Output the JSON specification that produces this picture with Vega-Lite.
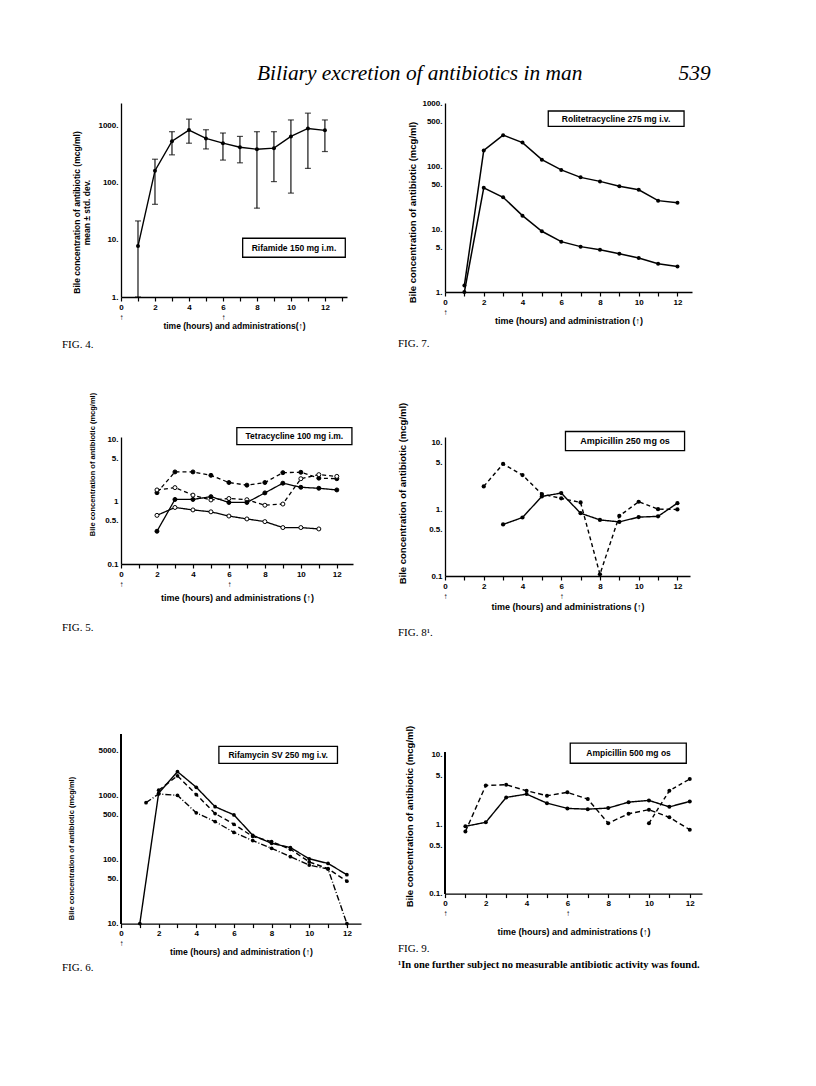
{
  "$schema": "https://vega.github.io/schema/vega-lite/v6.json",
  "background": "white",
  "autosize": {"type": "none"},
  "padding": {"left": 121, "top": 103, "right": 695, "bottom": 983},
  "title": {"text": "Biliary excretion of antibiotics in man\u00a0\u00a0\u00a0\u00a0\u00a0\u00a0\u00a0\u00a0\u00a0\u00a0\u00a0\u00a0\u00a0\u00a0\u00a0\u00a0\u00a0\u00a0539", "anchor": "start", "frame": "group", "dx": 136, "offset": 15, "font": "Liberation Serif", "fontSize": 21.4, "fontStyle": "italic", "fontWeight": "normal", "color": "black"},
  "config": {
    "view": {"stroke": null},
    "axis": {"domainColor": "black", "tickColor": "black", "labelColor": "black", "titleColor": "black", "labelFont": "Liberation Sans", "titleFont": "Liberation Sans", "labelFontWeight": "bold", "titleFontWeight": "bold", "labelFontSize": 8, "titleFontSize": 9, "grid": false, "domainWidth": 1.3, "tickWidth": 1.2, "labelOverlap": false},
    "axisX": {"labelOverlap": false, "labelFlush": false},
    "title": {"font": "Liberation Serif", "color": "black", "fontWeight": "normal"}
  },
  "resolve": {"scale": {"strokeDash": "independent", "fill": "independent"}},
  "columns": 2,
  "align": "none",
  "bounds": "flush",
  "spacing": {"row": 140, "column": 84},
  "concat": [
    {
      "width": 226, "height": 194,
      "title": {"text": "FIG. 4.", "orient": "bottom", "anchor": "start", "frame": "group", "dx": -59, "offset": 9, "fontSize": 11},
      "data": {"values": [
        {"t": 1, "v": 7.8, "lo": 1, "hi": 21.5},
        {"t": 2, "v": 163, "lo": 42, "hi": 259},
        {"t": 3, "v": 535, "lo": 309, "hi": 786},
        {"t": 4, "v": 840, "lo": 494, "hi": 1304},
        {"t": 5, "v": 600, "lo": 392, "hi": 850},
        {"t": 6, "v": 495, "lo": 250, "hi": 745},
        {"t": 7, "v": 420, "lo": 224, "hi": 650},
        {"t": 8, "v": 387, "lo": 36, "hi": 786},
        {"t": 9, "v": 405, "lo": 105, "hi": 786},
        {"t": 10, "v": 650, "lo": 66, "hi": 1262},
        {"t": 11, "v": 895, "lo": 179, "hi": 1660},
        {"t": 12, "v": 830, "lo": 353, "hi": 1262}
      ]},
      "layer": [
        {
          "mark": {"type": "line", "color": "black", "strokeWidth": 1.4},
          "encoding": {
            "x": {"field": "t", "type": "quantitative", "scale": {"domain": [0, 13.3], "nice": false, "zero": false},
              "axis": {"values": [0,1,2,3,4,5,6,7,8,9,10,11,12,13], "tickCount": 40, "format": "d", "labelExpr": "datum.value % 2 ? '' : ((datum.value == 0 || datum.value == 6) ? [datum.label, '↑'] : datum.label)", "title": "time (hours) and administrations(↑)", "titleFontSize": 8.5, "tickSize": 4, "labelPadding": 2, "labelFlush": false, "labelOverlap": false, "labelBound": false, "labelLineHeight": 10, "titlePadding": 0}},
            "y": {"field": "v", "type": "quantitative", "scale": {"type": "log", "domain": [1, 2500], "nice": false},
              "axis": {"values": [1, 10, 100, 1000], "tickCount": 40, "format": "~g", "labelExpr": "datum.label + '.'", "ticks": false, "labelPadding": 3, "labelOverlap": false, "labelFlush": false, "title": ["Bile concentration of antibiotic (mcg/ml)", "mean ± std. dev."], "titleFontSize": 8.5, "titleY": 109, "titlePadding": 6}}
          }
        },
        {
          "mark": {"type": "rule", "color": "black", "strokeWidth": 1.1},
          "encoding": {
            "x": {"field": "t", "type": "quantitative"},
            "y": {"field": "lo", "type": "quantitative"},
            "y2": {"field": "hi"}
          }
        },
        {
          "mark": {"type": "tick", "color": "black", "orient": "horizontal", "size": 6, "thickness": 1.2},
          "encoding": {
            "x": {"field": "t", "type": "quantitative"},
            "y": {"field": "hi", "type": "quantitative"}
          }
        },
        {
          "mark": {"type": "tick", "color": "black", "orient": "horizontal", "size": 6, "thickness": 1.2},
          "encoding": {
            "x": {"field": "t", "type": "quantitative"},
            "y": {"field": "lo", "type": "quantitative"}
          }
        },
        {
          "mark": {"type": "point", "shape": "circle", "filled": true, "color": "black", "size": 16, "opacity": 1},
          "encoding": {
            "x": {"field": "t", "type": "quantitative"},
            "y": {"field": "v", "type": "quantitative"}
          }
        },
        {
          "data": {"values": [{"x1": 7.16, "x2": 13.2, "y1": 4.97, "y2": 10.7, "tx": 10.18, "ty": 7.3, "label": "Rifamide 150 mg i.m."}]},
          "layer": [
            {"mark": {"type": "rect", "fill": "white", "stroke": "black", "strokeWidth": 1.3},
             "encoding": {"x": {"field": "x1", "type": "quantitative"}, "x2": {"field": "x2"}, "y": {"field": "y1", "type": "quantitative"}, "y2": {"field": "y2"}}},
            {"mark": {"type": "text", "font": "Liberation Sans", "fontWeight": "bold", "fontSize": 8.5, "color": "black"},
             "encoding": {"x": {"field": "tx", "type": "quantitative"}, "y": {"field": "ty", "type": "quantitative"}, "text": {"field": "label"}}}
          ]
        }
      ]
    },
    {
      "width": 247, "height": 189,
      "title": {"text": "FIG. 7.", "orient": "bottom", "anchor": "start", "frame": "group", "dx": -47, "offset": 13, "fontSize": 11},
      "data": {"values": [
        {"t": 1, "v": 1.27, "s": "U"}, {"t": 2, "v": 177, "s": "U"}, {"t": 3, "v": 309, "s": "U"}, {"t": 4, "v": 235, "s": "U"},
        {"t": 5, "v": 126, "s": "U"}, {"t": 6, "v": 86.7, "s": "U"}, {"t": 7, "v": 66, "s": "U"}, {"t": 8, "v": 57, "s": "U"},
        {"t": 9, "v": 47.6, "s": "U"}, {"t": 10, "v": 42, "s": "U"}, {"t": 11, "v": 28.2, "s": "U"}, {"t": 12, "v": 26.2, "s": "U"},
        {"t": 1, "v": 1, "s": "L"}, {"t": 2, "v": 45, "s": "L"}, {"t": 3, "v": 31.9, "s": "L"}, {"t": 4, "v": 16.3, "s": "L"},
        {"t": 5, "v": 9.2, "s": "L"}, {"t": 6, "v": 6.3, "s": "L"}, {"t": 7, "v": 5.25, "s": "L"}, {"t": 8, "v": 4.7, "s": "L"},
        {"t": 9, "v": 4.06, "s": "L"}, {"t": 10, "v": 3.46, "s": "L"}, {"t": 11, "v": 2.8, "s": "L"}, {"t": 12, "v": 2.55, "s": "L"}
      ]},
      "layer": [
        {
          "mark": {"type": "line", "color": "black", "strokeWidth": 1.5},
          "encoding": {
            "x": {"field": "t", "type": "quantitative", "scale": {"domain": [0, 12.75], "nice": false, "zero": false},
              "axis": {"values": [0,1,2,3,4,5,6,7,8,9,10,11,12], "tickCount": 40, "format": "d", "labelExpr": "datum.value % 2 ? '' : (datum.value == 0 ? [datum.label, '↑'] : datum.label)", "title": "time (hours) and administration (↑)", "tickSize": 4, "labelPadding": 2, "labelFlush": false, "labelOverlap": false, "labelBound": false, "labelLineHeight": 10, "titlePadding": 0}},
            "y": {"field": "v", "type": "quantitative", "scale": {"type": "log", "domain": [1, 1000], "nice": false},
              "axis": {"values": [1, 5, 10, 50, 100, 500, 1000], "tickCount": 40, "format": "~g", "labelExpr": "datum.label + '.'", "ticks": false, "labelPadding": 3, "labelOverlap": false, "labelFlush": false, "title": "Bile concentration of antibiotic (mcg/ml)", "titleFontSize": 9.5, "titleY": 109, "titlePadding": 4}},
            "detail": {"field": "s"}
          }
        },
        {
          "mark": {"type": "point", "shape": "circle", "filled": true, "color": "black", "size": 16, "opacity": 1},
          "encoding": {
            "x": {"field": "t", "type": "quantitative"},
            "y": {"field": "v", "type": "quantitative"}
          }
        },
        {
          "data": {"values": [{"x1": 5.33, "x2": 12.34, "y1": 427, "y2": 746, "tx": 8.83, "ty": 564, "label": "Rolitetracycline 275 mg i.v."}]},
          "layer": [
            {"mark": {"type": "rect", "fill": "white", "stroke": "black", "strokeWidth": 1.3},
             "encoding": {"x": {"field": "x1", "type": "quantitative"}, "x2": {"field": "x2"}, "y": {"field": "y1", "type": "quantitative"}, "y2": {"field": "y2"}}},
            {"mark": {"type": "text", "font": "Liberation Sans", "fontWeight": "bold", "fontSize": 8.5, "color": "black"},
             "encoding": {"x": {"field": "tx", "type": "quantitative"}, "y": {"field": "ty", "type": "quantitative"}, "text": {"field": "label"}}}
          ]
        }
      ]
    },
    {
      "width": 232, "height": 127,
      "title": {"text": "FIG. 5.", "orient": "bottom", "anchor": "start", "frame": "group", "dx": -59, "offset": 20, "fontSize": 11},
      "data": {"values": [
        {"t": 2, "v": 1.40, "s": "A"}, {"t": 3, "v": 3.02, "s": "A"}, {"t": 4, "v": 3.02, "s": "A"}, {"t": 5, "v": 2.66, "s": "A"},
        {"t": 6, "v": 2.04, "s": "A"}, {"t": 7, "v": 1.85, "s": "A"}, {"t": 8, "v": 2.04, "s": "A"}, {"t": 9, "v": 2.94, "s": "A"},
        {"t": 10, "v": 2.98, "s": "A"}, {"t": 11, "v": 2.40, "s": "A"}, {"t": 12, "v": 2.35, "s": "A"},
        {"t": 2, "v": 1.55, "s": "B"}, {"t": 3, "v": 1.69, "s": "B"}, {"t": 4, "v": 1.28, "s": "B"}, {"t": 5, "v": 1.07, "s": "B"},
        {"t": 6, "v": 1.13, "s": "B"}, {"t": 7, "v": 1.08, "s": "B"}, {"t": 8, "v": 0.88, "s": "B"}, {"t": 9, "v": 0.92, "s": "B"},
        {"t": 10, "v": 2.35, "s": "B"}, {"t": 11, "v": 2.73, "s": "B"}, {"t": 12, "v": 2.56, "s": "B"},
        {"t": 2, "v": 0.336, "s": "C"}, {"t": 3, "v": 1.09, "s": "C"}, {"t": 4, "v": 1.09, "s": "C"}, {"t": 5, "v": 1.21, "s": "C"},
        {"t": 6, "v": 0.975, "s": "C"}, {"t": 7, "v": 0.975, "s": "C"}, {"t": 8, "v": 1.39, "s": "C"}, {"t": 9, "v": 1.99, "s": "C"},
        {"t": 10, "v": 1.71, "s": "C"}, {"t": 11, "v": 1.65, "s": "C"}, {"t": 12, "v": 1.55, "s": "C"},
        {"t": 2, "v": 0.605, "s": "D"}, {"t": 3, "v": 0.81, "s": "D"}, {"t": 4, "v": 0.74, "s": "D"}, {"t": 5, "v": 0.69, "s": "D"},
        {"t": 6, "v": 0.59, "s": "D"}, {"t": 7, "v": 0.53, "s": "D"}, {"t": 8, "v": 0.48, "s": "D"}, {"t": 9, "v": 0.385, "s": "D"},
        {"t": 10, "v": 0.385, "s": "D"}, {"t": 11, "v": 0.366, "s": "D"}
      ]},
      "layer": [
        {
          "mark": {"type": "line", "color": "black", "strokeWidth": 1.3},
          "encoding": {
            "x": {"field": "t", "type": "quantitative", "scale": {"domain": [0, 12.9], "nice": false, "zero": false},
              "axis": {"values": [0,1,2,3,4,5,6,7,8,9,10,11,12], "tickCount": 40, "format": "d", "labelExpr": "datum.value % 2 ? '' : ((datum.value == 0 || datum.value == 6) ? [datum.label, '↑'] : datum.label)", "title": "time (hours) and administrations (↑)", "tickSize": 4, "labelPadding": 2, "labelFlush": false, "labelOverlap": false, "labelBound": false, "labelLineHeight": 10, "titlePadding": 5}},
            "y": {"field": "v", "type": "quantitative", "scale": {"type": "log", "domain": [0.1, 11], "nice": false},
              "axis": {"values": [0.1, 0.5, 1, 5, 10], "tickCount": 40, "format": "~g", "labelExpr": "datum.value == 0.1 || datum.value == 1 ? datum.label : datum.label + '.'", "ticks": false, "labelPadding": 3, "labelOverlap": false, "labelFlush": false, "title": "Bile concentration of antibiotic (mcg/ml)", "titleFontSize": 7.5, "titleY": 27, "titlePadding": 8}},
            "detail": {"field": "s"},
            "strokeDash": {"field": "s", "type": "nominal", "scale": {"domain": ["A", "B", "C", "D"], "range": [[4, 3], [4, 3], [1, 0], [1, 0]]}, "legend": null}
          }
        },
        {
          "mark": {"type": "point", "shape": "circle", "filled": true, "stroke": "black", "strokeWidth": 1, "size": 16, "opacity": 1},
          "encoding": {
            "x": {"field": "t", "type": "quantitative"},
            "y": {"field": "v", "type": "quantitative"},
            "fill": {"field": "s", "type": "nominal", "scale": {"domain": ["A", "B", "C", "D"], "range": ["black", "white", "black", "white"]}, "legend": null}
          }
        },
        {
          "data": {"values": [{"x1": 6.44, "x2": 12.84, "y1": 8.3, "y2": 15.6, "tx": 9.64, "ty": 11.4, "label": "Tetracycline  100 mg i.m."}]},
          "layer": [
            {"mark": {"type": "rect", "fill": "white", "stroke": "black", "strokeWidth": 1.3},
             "encoding": {"x": {"field": "x1", "type": "quantitative"}, "x2": {"field": "x2"}, "y": {"field": "y1", "type": "quantitative"}, "y2": {"field": "y2"}}},
            {"mark": {"type": "text", "font": "Liberation Sans", "fontWeight": "bold", "fontSize": 8.5, "color": "black"},
             "encoding": {"x": {"field": "tx", "type": "quantitative"}, "y": {"field": "ty", "type": "quantitative"}, "text": {"field": "label"}}}
          ]
        }
      ]
    },
    {
      "width": 245, "height": 139,
      "title": {"text": "FIG. 8¹.", "orient": "bottom", "anchor": "start", "frame": "group", "dx": -47, "offset": 16, "fontSize": 11},
      "data": {"values": [
        {"t": 2, "v": 2.19, "s": "D"}, {"t": 3, "v": 4.75, "s": "D"}, {"t": 4, "v": 3.24, "s": "D"}, {"t": 5, "v": 1.68, "s": "D"},
        {"t": 6, "v": 1.45, "s": "D"}, {"t": 7, "v": 1.26, "s": "D"}, {"t": 8, "v": 0.106, "s": "D"}, {"t": 9, "v": 0.79, "s": "D"},
        {"t": 10, "v": 1.29, "s": "D"}, {"t": 11, "v": 1.0, "s": "D"}, {"t": 12, "v": 0.99, "s": "D"},
        {"t": 3, "v": 0.59, "s": "S"}, {"t": 4, "v": 0.75, "s": "S"}, {"t": 5, "v": 1.55, "s": "S"}, {"t": 6, "v": 1.74, "s": "S"},
        {"t": 7, "v": 0.87, "s": "S"}, {"t": 8, "v": 0.69, "s": "S"}, {"t": 9, "v": 0.645, "s": "S"}, {"t": 10, "v": 0.76, "s": "S"},
        {"t": 11, "v": 0.78, "s": "S"}, {"t": 12, "v": 1.23, "s": "S"}
      ]},
      "layer": [
        {
          "mark": {"type": "line", "color": "black", "strokeWidth": 1.4},
          "encoding": {
            "x": {"field": "t", "type": "quantitative", "scale": {"domain": [0, 12.65], "nice": false, "zero": false},
              "axis": {"values": [0,1,2,3,4,5,6,7,8,9,10,11,12], "tickCount": 40, "format": "d", "labelExpr": "datum.value % 2 ? '' : ((datum.value == 0 || datum.value == 6) ? [datum.label, '↑'] : datum.label)", "title": "time (hours) and administrations (↑)", "tickSize": 4, "labelPadding": 2, "labelFlush": false, "labelOverlap": false, "labelBound": false, "labelLineHeight": 10, "titlePadding": 2}},
            "y": {"field": "v", "type": "quantitative", "scale": {"type": "log", "domain": [0.1, 12], "nice": false},
              "axis": {"values": [0.1, 0.5, 1, 5, 10], "tickCount": 40, "format": "~g", "labelExpr": "datum.value == 0.1 ? datum.label : datum.label + '.'", "ticks": false, "labelPadding": 3, "labelOverlap": false, "labelFlush": false, "title": "Bile concentration of antibiotic (mcg/ml)", "titleFontSize": 9.5, "titleY": 56, "titlePadding": 21}},
            "detail": {"field": "s"},
            "strokeDash": {"field": "s", "type": "nominal", "scale": {"domain": ["D", "S"], "range": [[4, 3], [1, 0]]}, "legend": null}
          }
        },
        {
          "mark": {"type": "point", "shape": "circle", "filled": true, "color": "black", "size": 18, "opacity": 1},
          "encoding": {
            "x": {"field": "t", "type": "quantitative"},
            "y": {"field": "v", "type": "quantitative"}
          }
        },
        {
          "data": {"values": [{"x1": 6.22, "x2": 12.37, "y1": 7.5, "y2": 14.5, "tx": 9.3, "ty": 10.4, "label": "Ampicillin 250 mg os"}]},
          "layer": [
            {"mark": {"type": "rect", "fill": "white", "stroke": "black", "strokeWidth": 1.3},
             "encoding": {"x": {"field": "x1", "type": "quantitative"}, "x2": {"field": "x2"}, "y": {"field": "y1", "type": "quantitative"}, "y2": {"field": "y2"}}},
            {"mark": {"type": "text", "font": "Liberation Sans", "fontWeight": "bold", "fontSize": 9, "color": "black"},
             "encoding": {"x": {"field": "tx", "type": "quantitative"}, "y": {"field": "ty", "type": "quantitative"}, "text": {"field": "label"}}}
          ]
        }
      ]
    },
    {
      "width": 240, "height": 207.6,
      "title": {"text": "FIG. 6.", "orient": "bottom", "anchor": "start", "frame": "group", "dx": -59, "offset": 6, "fontSize": 11},
      "data": {"values": [
        {"t": 1, "v": 10, "s": "S"}, {"t": 2, "v": 1090, "s": "S"}, {"t": 3, "v": 2370, "s": "S"}, {"t": 4, "v": 1350, "s": "S"},
        {"t": 5, "v": 670, "s": "S"}, {"t": 6, "v": 500, "s": "S"}, {"t": 7, "v": 240, "s": "S"}, {"t": 8, "v": 180, "s": "S"},
        {"t": 9, "v": 154, "s": "S"}, {"t": 10, "v": 103, "s": "S"}, {"t": 11, "v": 87, "s": "S"}, {"t": 12, "v": 58, "s": "S"},
        {"t": 2, "v": 1213, "s": "D"}, {"t": 3, "v": 2040, "s": "D"}, {"t": 4, "v": 1040, "s": "D"}, {"t": 5, "v": 525, "s": "D"},
        {"t": 6, "v": 356, "s": "D"}, {"t": 7, "v": 230, "s": "D"}, {"t": 8, "v": 191, "s": "D"}, {"t": 9, "v": 145, "s": "D"},
        {"t": 10, "v": 92, "s": "D"}, {"t": 11, "v": 72, "s": "D"}, {"t": 12, "v": 46, "s": "D"},
        {"t": 1.33, "v": 776, "s": "P"}, {"t": 2, "v": 1060, "s": "P"}, {"t": 3, "v": 1010, "s": "P"}, {"t": 4, "v": 538, "s": "P"},
        {"t": 5, "v": 393, "s": "P"}, {"t": 6, "v": 266, "s": "P"}, {"t": 7, "v": 198, "s": "P"}, {"t": 8, "v": 150, "s": "P"},
        {"t": 9, "v": 111, "s": "P"}, {"t": 10, "v": 82, "s": "P"}, {"t": 11, "v": 71, "s": "P"}, {"t": 12, "v": 10, "s": "P"}
      ]},
      "layer": [
        {
          "mark": {"type": "line", "color": "black", "strokeWidth": 1.4},
          "encoding": {
            "x": {"field": "t", "type": "quantitative", "scale": {"domain": [0, 12.75], "nice": false, "zero": false},
              "axis": {"values": [0,1,2,3,4,5,6,7,8,9,10,11,12], "tickCount": 40, "format": "d", "labelExpr": "datum.value % 2 ? '' : (datum.value == 0 ? [datum.label, '↑'] : datum.label)", "title": "time (hours) and administration (↑)", "titleFontSize": 8.7, "tickSize": 4, "labelPadding": 2, "labelFlush": false, "labelOverlap": false, "labelBound": false, "labelLineHeight": 10, "titlePadding": 0}},
            "y": {"field": "v", "type": "quantitative", "scale": {"type": "log", "domain": [10, 17540], "nice": false},
              "axis": {"values": [10, 50, 100, 500, 1000, 5000], "tickCount": 40, "format": "~g", "labelExpr": "datum.label + '.'", "ticks": false, "domain": false, "labelPadding": 3, "labelOverlap": false, "labelFlush": false, "title": "Bile concentration of antibiotic (mcg/ml)", "titleFontSize": 7.5, "titleY": 132, "titlePadding": 22}},
            "detail": {"field": "s"},
            "strokeDash": {"field": "s", "type": "nominal", "scale": {"domain": ["S", "D", "P"], "range": [[1, 0], [5, 3], [6, 2, 1, 2]]}, "legend": null}
          }
        },
        {
          "mark": {"type": "rule", "color": "black", "strokeWidth": 1.3},
          "encoding": {
            "x": {"datum": 0, "type": "quantitative"},
            "y": {"datum": 10, "type": "quantitative"},
            "y2": {"datum": 9080}
          }
        },
        {
          "mark": {"type": "point", "shape": "circle", "filled": true, "color": "black", "size": 14, "opacity": 1},
          "encoding": {
            "x": {"field": "t", "type": "quantitative"},
            "y": {"field": "v", "type": "quantitative"}
          }
        },
        {
          "data": {"values": [{"x1": 5.2, "x2": 11.5, "y1": 3200, "y2": 5890, "tx": 8.35, "ty": 4340, "label": "Rifamycin SV 250 mg i.v."}]},
          "layer": [
            {"mark": {"type": "rect", "fill": "white", "stroke": "black", "strokeWidth": 1.3},
             "encoding": {"x": {"field": "x1", "type": "quantitative"}, "x2": {"field": "x2"}, "y": {"field": "y1", "type": "quantitative"}, "y2": {"field": "y2"}}},
            {"mark": {"type": "text", "font": "Liberation Sans", "fontWeight": "bold", "fontSize": 8.5, "color": "black"},
             "encoding": {"x": {"field": "tx", "type": "quantitative"}, "y": {"field": "ty", "type": "quantitative"}, "text": {"field": "label"}}}
          ]
        }
      ]
    },
    {
      "width": 257, "height": 177.6,
      "title": {"text": "FIG. 9.", "subtitle": "¹In one further subject no measurable antibiotic activity was found.", "orient": "bottom", "anchor": "start", "frame": "group", "dx": -47, "offset": 6, "fontSize": 11, "subtitleFont": "Liberation Serif", "subtitleFontSize": 10.5, "subtitleFontWeight": "bold", "subtitleColor": "black", "subtitlePadding": 6},
      "data": {"values": [
        {"t": 1, "v": 0.78, "s": "A"}, {"t": 2, "v": 3.6, "s": "A"}, {"t": 3, "v": 3.68, "s": "A"}, {"t": 4, "v": 3.02, "s": "A"},
        {"t": 5, "v": 2.56, "s": "A"}, {"t": 6, "v": 2.86, "s": "A"}, {"t": 7, "v": 2.29, "s": "A"}, {"t": 8, "v": 1.03, "s": "A"},
        {"t": 9, "v": 1.41, "s": "A"}, {"t": 10, "v": 1.61, "s": "A"}, {"t": 11, "v": 1.25, "s": "A"}, {"t": 12, "v": 0.83, "s": "A"},
        {"t": 1, "v": 0.93, "s": "B"}, {"t": 2, "v": 1.06, "s": "B"}, {"t": 3, "v": 2.42, "s": "B"}, {"t": 4, "v": 2.70, "s": "B"},
        {"t": 5, "v": 2.0, "s": "B"}, {"t": 6, "v": 1.68, "s": "B"}, {"t": 7, "v": 1.64, "s": "B"}, {"t": 8, "v": 1.70, "s": "B"},
        {"t": 9, "v": 2.07, "s": "B"}, {"t": 10, "v": 2.19, "s": "B"}, {"t": 11, "v": 1.77, "s": "B"}, {"t": 12, "v": 2.12, "s": "B"},
        {"t": 10, "v": 1.03, "s": "C"}, {"t": 11, "v": 3.02, "s": "C"}, {"t": 12, "v": 4.44, "s": "C"}
      ]},
      "layer": [
        {
          "mark": {"type": "line", "color": "black", "strokeWidth": 1.4},
          "encoding": {
            "x": {"field": "t", "type": "quantitative", "scale": {"domain": [0, 12.6], "nice": false, "zero": false},
              "axis": {"values": [0,1,2,3,4,5,6,7,8,9,10,11,12], "tickCount": 40, "format": "d", "labelExpr": "datum.value % 2 ? '' : ((datum.value == 0 || datum.value == 6) ? [datum.label, '↑'] : datum.label)", "title": "time (hours) and administrations (↑)", "tickSize": 4, "labelPadding": 2, "labelFlush": false, "labelOverlap": false, "labelBound": false, "labelLineHeight": 10, "titlePadding": 10}},
            "y": {"field": "v", "type": "quantitative", "scale": {"type": "log", "domain": [0.1, 35.9], "nice": false},
              "axis": {"values": [0.1, 0.5, 1, 5, 10], "tickCount": 40, "format": "~g", "labelExpr": "datum.label + '.'", "ticks": false, "domain": false, "labelPadding": 3, "labelOverlap": false, "labelFlush": false, "title": "Bile concentration of antibiotic (mcg/ml)", "titleFontSize": 9.5, "titleY": 100, "titlePadding": 14}},
            "detail": {"field": "s"},
            "strokeDash": {"field": "s", "type": "nominal", "scale": {"domain": ["A", "B", "C"], "range": [[5, 3], [1, 0], [4, 3]]}, "legend": null}
          }
        },
        {
          "mark": {"type": "rule", "color": "black", "strokeWidth": 1.3},
          "encoding": {
            "x": {"datum": 0, "type": "quantitative"},
            "y": {"datum": 0.1, "type": "quantitative"},
            "y2": {"datum": 10.9}
          }
        },
        {
          "mark": {"type": "point", "shape": "circle", "filled": true, "color": "black", "size": 16, "opacity": 1},
          "encoding": {
            "x": {"field": "t", "type": "quantitative"},
            "y": {"field": "v", "type": "quantitative"}
          }
        },
        {
          "data": {"values": [{"x1": 6.14, "x2": 11.83, "y1": 7.5, "y2": 14.6, "tx": 9.0, "ty": 10.4, "label": "Ampicillin 500 mg os"}]},
          "layer": [
            {"mark": {"type": "rect", "fill": "white", "stroke": "black", "strokeWidth": 1.3},
             "encoding": {"x": {"field": "x1", "type": "quantitative"}, "x2": {"field": "x2"}, "y": {"field": "y1", "type": "quantitative"}, "y2": {"field": "y2"}}},
            {"mark": {"type": "text", "font": "Liberation Sans", "fontWeight": "bold", "fontSize": 8.5, "color": "black"},
             "encoding": {"x": {"field": "tx", "type": "quantitative"}, "y": {"field": "ty", "type": "quantitative"}, "text": {"field": "label"}}}
          ]
        }
      ]
    }
  ]
}
